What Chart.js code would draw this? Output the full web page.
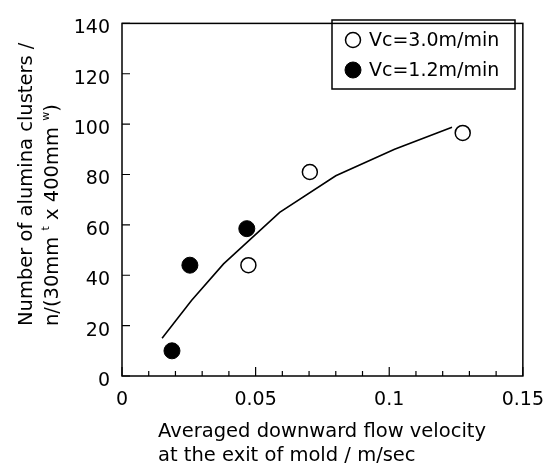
<!DOCTYPE html>
<html>
<head>
<meta charset="utf-8">
<script src="https://cdn.jsdelivr.net/npm/chart.js@4.4.1/dist/chart.umd.min.js"></script>
<style>
    html, body { margin: 0; padding: 0; background: #fff; }
    #wrap { width: 557px; height: 470px; }
</style>
</head>
<body>
<div id="wrap"><canvas id="clusters" width="557" height="470"></canvas></div>
<script>
/* data */

const xFast = [0.0473, 0.0703, 0.1275];
const yFast = [44, 81, 96.5];
const xSlow = [0.0187, 0.0254, 0.0467];
const ySlow = [10, 44, 58.5];
const xFit = [0.015, 0.026, 0.038, 0.059, 0.080, 0.102, 0.1235];
const yFit = [15, 30, 44.5, 65, 79.5, 90, 98.8];
const xTicks = [0, 0.05, 0.1, 0.15];
const xMinorStep = 0.01;
const yTicks = [0, 20, 40, 60, 80, 100, 120, 140];
const seriesLabels = ['Vc=3.0m/min', 'Vc=1.2m/min'];
const xTitle = ['Averaged downward flow velocity', 'at the exit of mold / m/sec'];
const yTitle = ['Number of alumina clusters /', ['n/(30mm ', 't', ' x 400mm ', 'w', ')']];

const FONT = '"DejaVu Sans", sans-serif';

function pairs(xs, ys) {
    return xs.map(function (x, i) { return { x: x, y: ys[i] }; });
}

/* frame, inward ticks, legend box and axis titles */

const decorations = {
    id: 'decorations',
    beforeDatasetsDraw: function (chart) {
        const ctx = chart.ctx;
        const a = chart.chartArea;
        const xs = chart.scales.x;
        const ys = chart.scales.y;
        ctx.save();
        ctx.strokeStyle = '#000';
        ctx.lineWidth = 1.5;
        ctx.strokeRect(a.left, a.top, a.right - a.left, a.bottom - a.top);

        ctx.lineWidth = 1.2;
        ctx.beginPath();
        const n = Math.round((xs.max - xs.min) / xMinorStep);
        for (let i = 0; i <= n; i++) {
            const px = xs.getPixelForValue(xs.min + i * xMinorStep);
            const len = (i % 5 === 0) ? 9 : 5;
            ctx.moveTo(px, a.bottom);
            ctx.lineTo(px, a.bottom - len);
        }
        yTicks.forEach(function (v) {
            const py = ys.getPixelForValue(v);
            ctx.moveTo(a.left, py);
            ctx.lineTo(a.left + 8, py);
        });
        ctx.stroke();
        ctx.restore();
    },
    afterDraw: function (chart) {
        const ctx = chart.ctx;
        ctx.save();
        ctx.fillStyle = '#000';
        ctx.strokeStyle = '#000';

        // legend
        const box = { left: 332, top: 20, right: 515, bottom: 89 };
        ctx.lineWidth = 1.5;
        ctx.strokeRect(box.left, box.top, box.right - box.left, box.bottom - box.top);
        const rows = [40, 70];
        const legendSets = chart.data.datasets.filter(function (d) { return seriesLabels.indexOf(d.label) >= 0; });
        ctx.font = '19px ' + FONT;
        ctx.textBaseline = 'middle';
        ctx.textAlign = 'left';
        legendSets.forEach(function (d, i) {
            ctx.beginPath();
            ctx.arc(353, rows[i], d.pointRadius, 0, Math.PI * 2);
            ctx.fillStyle = d.backgroundColor;
            ctx.fill();
            ctx.lineWidth = d.borderWidth;
            ctx.strokeStyle = d.borderColor;
            ctx.stroke();
            ctx.fillStyle = '#000';
            ctx.fillText(d.label, 369, rows[i] + 1);
        });

        // x title, left aligned block
        ctx.font = '19.5px ' + FONT;
        ctx.fillText(xTitle[0], 158, 432);
        ctx.fillText(xTitle[1], 158, 456);

        // y title, rotated
        ctx.save();
        ctx.translate(27, 326);
        ctx.rotate(-Math.PI / 2);
        ctx.fillText(yTitle[0], 0, 0);
        ctx.restore();

        ctx.save();
        ctx.translate(53, 326);
        ctx.rotate(-Math.PI / 2);
        let cx = 0;
        yTitle[1].forEach(function (part, i) {
            const sup = (i % 2 === 1);
            ctx.font = (sup ? '11px ' : '19.5px ') + FONT;
            ctx.fillText(part, cx, sup ? -7 : 0);
            cx += ctx.measureText(part).width;
        });
        ctx.restore();

        ctx.restore();
    }
};

const ctx = document.getElementById('clusters').getContext('2d');
const clusters = new Chart(ctx, {
    type: 'scatter',
    data: {
        datasets: [{
            label: 'fit',
            data: pairs(xFit, yFit),
            showLine: true,
            borderColor: '#000',
            borderWidth: 1.6,
            pointRadius: 0,
            pointHoverRadius: 0,
            fill: false
        }, {
            label: seriesLabels[0],
            data: pairs(xFast, yFast),
            pointRadius: 7.5,
            pointHoverRadius: 7.5,
            backgroundColor: '#fff',
            borderColor: '#000',
            borderWidth: 1.5
        }, {
            label: seriesLabels[1],
            data: pairs(xSlow, ySlow),
            pointRadius: 8,
            pointHoverRadius: 8,
            backgroundColor: '#000',
            borderColor: '#000',
            borderWidth: 1
        }]
    },
    options: {
        responsive: false,
        animation: false,
        events: [],
        layout: {
            padding: { left: 0, top: 11, right: 32, bottom: 0 }
        },
        plugins: {
            legend: { display: false },
            tooltip: { enabled: false }
        },
        scales: {
            x: {
                type: 'linear',
                min: 0,
                max: 0.15,
                afterBuildTicks: function (s) {
                    s.ticks = xTicks.map(function (v) { return { value: v }; });
                },
                ticks: {
                    color: '#000',
                    font: { family: FONT, size: 19 },
                    padding: 13,
                    maxRotation: 0,
                    callback: function (v) { return String(Math.round(v * 100) / 100); }
                },
                grid: { display: false, drawTicks: false },
                border: { display: false },
                afterFit: function (s) { s.height = 94; }
            },
            y: {
                min: 0,
                max: 140,
                afterBuildTicks: function (s) {
                    s.ticks = yTicks.map(function (v) { return { value: v }; });
                },
                ticks: {
                    color: '#000',
                    font: { family: FONT, size: 19 },
                    padding: 12,
                    labelOffset: 5
                },
                grid: { display: false, drawTicks: false },
                border: { display: false },
                afterFit: function (s) { s.width = 122; }
            }
        }
    },
    plugins: [decorations]
});
</script>
</body>
</html>
